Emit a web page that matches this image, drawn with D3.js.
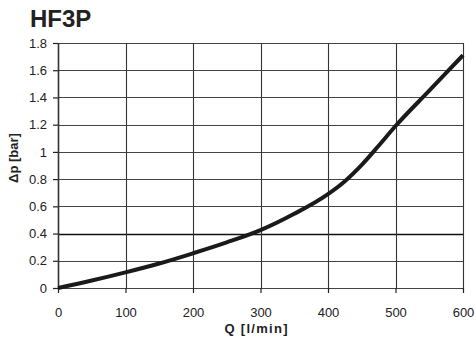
<!DOCTYPE html>
<html><head><meta charset="utf-8">
<script src="https://cdn.jsdelivr.net/npm/d3@7"></script>
<style>body{margin:0;background:#fff;} svg{display:block;font-family:"Liberation Sans",Arial,sans-serif;}</style>
</head><body>
<svg id="c" width="476" height="338"></svg>
<script>
const title = "HF3P";
const xLabel = "Q [l/min]";
const yLabel = "Δp [bar]";
const flowQ = [0, 50, 100, 150, 200, 250, 300, 350, 400, 425, 450, 475, 500, 550, 600];
const pressureDrop = [0, 0.055, 0.115, 0.18, 0.255, 0.335, 0.425, 0.545, 0.69, 0.785, 0.905, 1.045, 1.19, 1.45, 1.71];
const xTicks = [0, 100, 200, 300, 400, 500, 600];
const yTicks = [0, 0.2, 0.4, 0.6, 0.8, 1, 1.2, 1.4, 1.6, 1.8];

const svg = d3.select("#c");
const m = {l: 58, r: 13, t: 43, b: 50};
const W = 476, H = 338;
const x = d3.scaleLinear().domain([0, 600]).range([m.l, W - m.r]);
const y = d3.scaleLinear().domain([0, 1.8]).range([H - m.b, m.t]);

// grid
svg.append("g").selectAll("line").data(yTicks).join("line")
  .attr("x1", x(0)).attr("x2", x(600))
  .attr("y1", d => Math.round(y(d)) + 0.5).attr("y2", d => Math.round(y(d)) + 0.5)
  .attr("stroke", d => d === 0.4 ? "#111" : "#444")
  .attr("stroke-width", d => d === 0.4 ? 1.6 : 1.1);
svg.append("g").selectAll("line").data(xTicks).join("line")
  .attr("y1", y(0)).attr("y2", y(1.8))
  .attr("x1", d => Math.round(x(d)) + 0.5).attr("x2", d => Math.round(x(d)) + 0.5)
  .attr("stroke", "#333").attr("stroke-width", d => d === 0 ? 1.6 : 1.1);

// axes
const ax = svg.append("g").attr("transform", `translate(0,${y(0)})`)
  .call(d3.axisBottom(x).tickValues(xTicks).tickSize(5).tickPadding(15).tickFormat(d3.format("d")));
const ay = svg.append("g").attr("transform", `translate(${x(0)},0)`)
  .call(d3.axisLeft(y).tickValues(yTicks).tickSize(5).tickPadding(6).tickFormat(d => d3.format("~g")(d)));
[ax, ay].forEach(g => {
  g.select(".domain").remove();
  g.selectAll(".tick line").attr("stroke", "#222").attr("stroke-width", 1.2);
  g.selectAll(".tick text").attr("fill", "#222").attr("font-size", 13)
    .attr("font-family", "'Liberation Sans', Arial, sans-serif");
});

// curve
const line = d3.line().x((d, i) => x(flowQ[i])).y(d => y(d)).curve(d3.curveMonotoneX);
svg.append("path").datum(pressureDrop).attr("d", line)
  .attr("fill", "none").attr("stroke", "#1a1a1a").attr("stroke-width", 4).attr("stroke-linecap", "butt");

// titles
svg.append("text").attr("x", 30).attr("y", 27).text(title)
  .attr("font-size", 24).attr("font-weight", "bold").attr("fill", "#222");
svg.append("text").attr("x", 256).attr("y", 333).attr("text-anchor", "middle").text(xLabel)
  .attr("font-size", 13).attr("font-weight", "bold").attr("fill", "#222")
  .attr("textLength", 63).attr("lengthAdjust", "spacing");
svg.append("text").attr("transform", "translate(18,158) rotate(-90)").attr("text-anchor", "middle").text(yLabel)
  .attr("font-size", 13).attr("font-weight", "bold").attr("fill", "#222");
</script>
</body></html>
